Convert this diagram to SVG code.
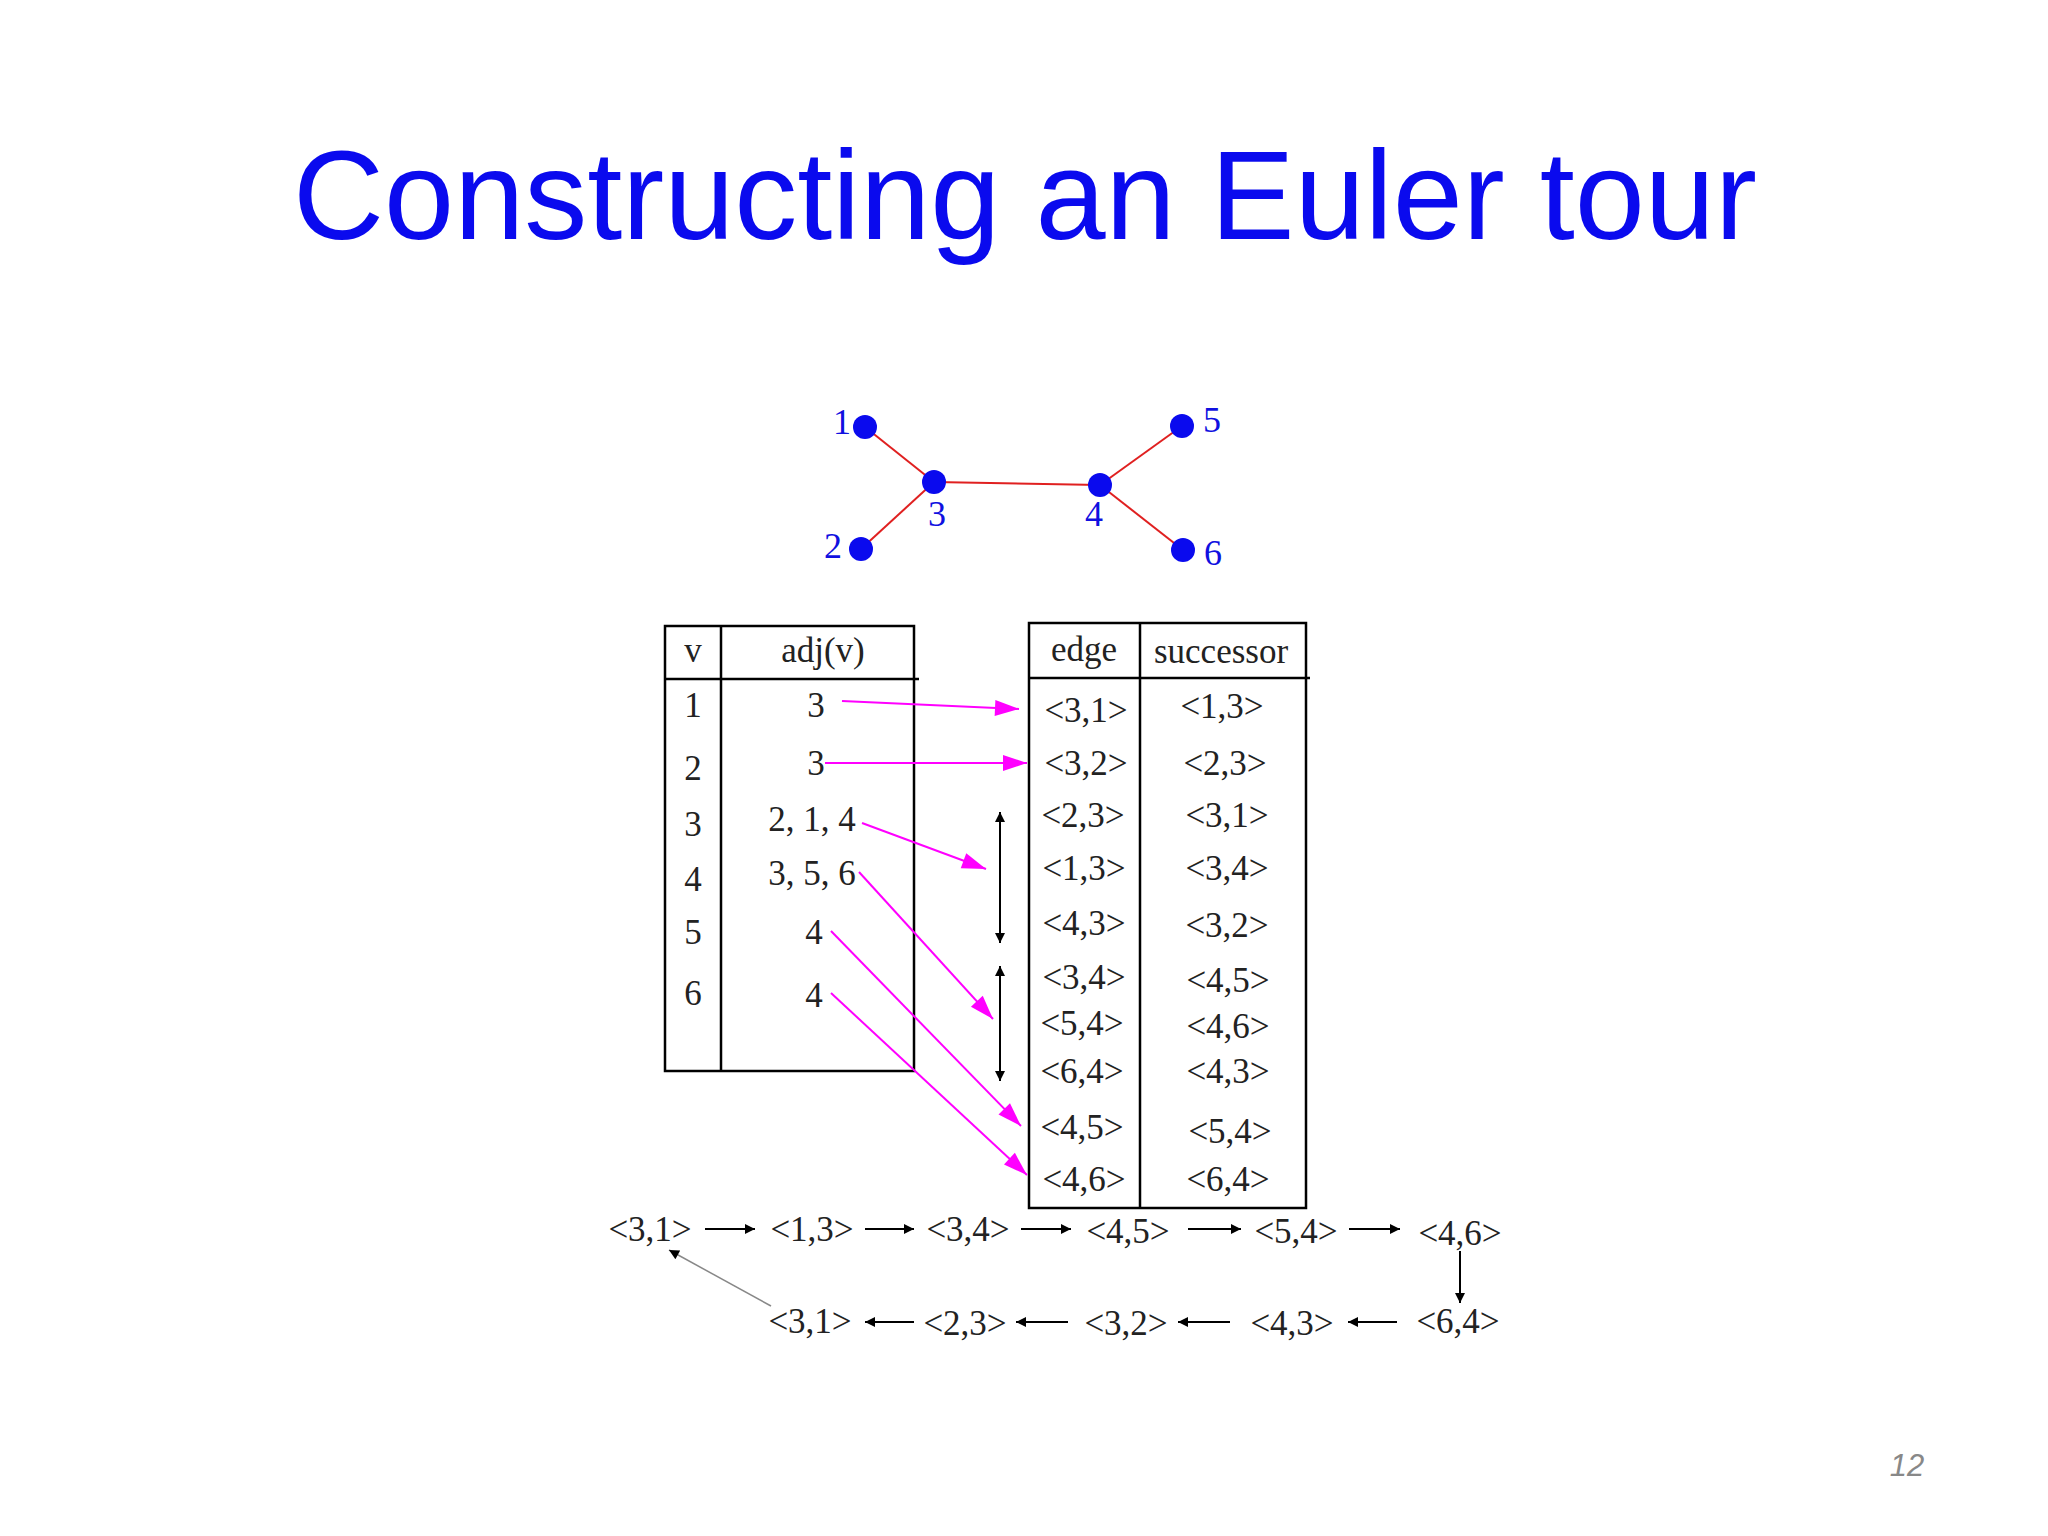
<svg xmlns="http://www.w3.org/2000/svg" width="2048" height="1536" viewBox="0 0 2048 1536">
<defs>
<style>
.t{font-family:"Liberation Serif","DejaVu Serif",serif;font-size:35px;fill:#222;text-anchor:middle;dominant-baseline:central}
.b{font-family:"Liberation Serif",serif;font-size:36px;fill:#1010e0;text-anchor:middle;dominant-baseline:central}
.m{stroke:#ff00ff;stroke-width:2;fill:none;marker-end:url(#mh)}
.k{stroke:#000;stroke-width:2;fill:none;marker-end:url(#kh)}
.kd{stroke:#000;stroke-width:2;fill:none;marker-end:url(#kh);marker-start:url(#ks)}
</style>
<marker id="mh" viewBox="0 0 10 10" refX="10" refY="5" markerWidth="12" markerHeight="8" markerUnits="userSpaceOnUse" orient="auto" overflow="visible"><path d="M0,0 L30,5 L0,10 Z" fill="#ff00ff" transform="translate(-20,-5) scale(1,2)"/></marker>
<marker id="kh" viewBox="0 0 10 10" refX="10" refY="5" markerWidth="16" markerHeight="10" markerUnits="userSpaceOnUse" orient="auto"><path d="M0,0 L10,5 L0,10 Z" fill="#000"/></marker>
<marker id="ks" viewBox="0 0 10 10" refX="0" refY="5" markerWidth="16" markerHeight="10" markerUnits="userSpaceOnUse" orient="auto"><path d="M10,0 L0,5 L10,10 Z" fill="#000"/></marker>
</defs>
<rect width="2048" height="1536" fill="#fff"/>
<text x="1025" y="239" font-family="Liberation Sans,Arial,sans-serif" font-size="126" fill="#0a0aee" text-anchor="middle">Constructing an Euler tour</text>
<g id="graph">
<g stroke="#e02020" stroke-width="2">
<line x1="865" y1="427" x2="934" y2="482"/><line x1="861" y1="549" x2="934" y2="482"/>
<line x1="934" y1="482" x2="1100" y2="485"/><line x1="1100" y1="485" x2="1182" y2="426"/><line x1="1100" y1="485" x2="1183" y2="550"/>
</g>
<g fill="#0a0aee"><circle cx="865" cy="427" r="12"/><circle cx="861" cy="549" r="12"/><circle cx="934" cy="482" r="12"/><circle cx="1100" cy="485" r="12"/><circle cx="1182" cy="426" r="12"/><circle cx="1183" cy="550" r="12"/></g>
<text class="b" x="842" y="422">1</text><text class="b" x="833" y="546">2</text><text class="b" x="937" y="514">3</text><text class="b" x="1094" y="514">4</text><text class="b" x="1212" y="420">5</text><text class="b" x="1213" y="553">6</text>
</g>
<g id="table-adj" fill="none" stroke="#000" stroke-width="2.5">
<rect x="665" y="626" width="249" height="445"/><line x1="721" y1="626" x2="721" y2="1071"/><line x1="665" y1="679" x2="919" y2="679"/>
</g>
<g id="table-adj-text">
<text class="t" x="693" y="650">v</text><text class="t" x="823" y="650">adj(v)</text>
<text class="t" x="693" y="705">1</text><text class="t" x="816" y="705">3</text>
<text class="t" x="693" y="768">2</text><text class="t" x="816" y="763">3</text>
<text class="t" x="693" y="824">3</text><text class="t" x="812" y="819">2, 1, 4</text>
<text class="t" x="693" y="879">4</text><text class="t" x="812" y="873">3, 5, 6</text>
<text class="t" x="693" y="932">5</text><text class="t" x="814" y="932">4</text>
<text class="t" x="693" y="993">6</text><text class="t" x="814" y="995">4</text>
</g>
<g id="table-succ" fill="none" stroke="#000" stroke-width="2.5">
<rect x="1029" y="623" width="277" height="585"/><line x1="1140" y1="623" x2="1140" y2="1208"/><line x1="1029" y1="678" x2="1310" y2="678"/>
</g>
<g id="table-succ-text">
<text class="t" x="1084" y="649">edge</text><text class="t" x="1221" y="651">successor</text>
<text class="t" x="1086" y="710">&lt;3,1&gt;</text><text class="t" x="1222" y="706">&lt;1,3&gt;</text>
<text class="t" x="1086" y="763">&lt;3,2&gt;</text><text class="t" x="1225" y="763">&lt;2,3&gt;</text>
<text class="t" x="1083" y="815">&lt;2,3&gt;</text><text class="t" x="1227" y="815">&lt;3,1&gt;</text>
<text class="t" x="1084" y="868">&lt;1,3&gt;</text><text class="t" x="1227" y="868">&lt;3,4&gt;</text>
<text class="t" x="1084" y="923">&lt;4,3&gt;</text><text class="t" x="1227" y="925">&lt;3,2&gt;</text>
<text class="t" x="1084" y="977">&lt;3,4&gt;</text><text class="t" x="1228" y="980">&lt;4,5&gt;</text>
<text class="t" x="1082" y="1023">&lt;5,4&gt;</text><text class="t" x="1228" y="1026">&lt;4,6&gt;</text>
<text class="t" x="1082" y="1071">&lt;6,4&gt;</text><text class="t" x="1228" y="1071">&lt;4,3&gt;</text>
<text class="t" x="1082" y="1127">&lt;4,5&gt;</text><text class="t" x="1230" y="1131">&lt;5,4&gt;</text>
<text class="t" x="1084" y="1179">&lt;4,6&gt;</text><text class="t" x="1228" y="1179">&lt;6,4&gt;</text>
</g>
<g id="connectors">
<line class="m" x1="842" y1="701" x2="1019" y2="709"/>
<line class="m" x1="825" y1="763" x2="1027" y2="763"/>
<line class="m" x1="862" y1="823" x2="986" y2="869"/>
<line class="m" x1="859" y1="872" x2="993" y2="1019"/>
<line class="m" x1="831" y1="931" x2="1021" y2="1126"/>
<line class="m" x1="831" y1="993" x2="1027" y2="1175"/>
<line class="kd" x1="1000" y1="812" x2="1000" y2="943"/>
<line class="kd" x1="1000" y1="966" x2="1000" y2="1081"/>
<line class="k" x1="705" y1="1229" x2="755" y2="1229"/>
<line class="k" x1="865" y1="1229" x2="914" y2="1229"/>
<line class="k" x1="1021" y1="1229" x2="1071" y2="1229"/>
<line class="k" x1="1188" y1="1229" x2="1241" y2="1229"/>
<line class="k" x1="1349" y1="1229" x2="1400" y2="1229"/>
<line class="k" x1="1460" y1="1251" x2="1460" y2="1303"/>
<line class="k" x1="1397" y1="1322" x2="1348" y2="1322"/>
<line class="k" x1="1230" y1="1322" x2="1178" y2="1322"/>
<line class="k" x1="1068" y1="1322" x2="1016" y2="1322"/>
<line class="k" x1="914" y1="1322" x2="865" y2="1322"/>
<line x1="771" y1="1306" x2="669" y2="1250" stroke="#888" stroke-width="1.5" marker-end="url(#kh)"/>
</g>
<g id="chain">
<text class="t" x="650" y="1229">&lt;3,1&gt;</text><text class="t" x="812" y="1229">&lt;1,3&gt;</text><text class="t" x="968" y="1229">&lt;3,4&gt;</text><text class="t" x="1128" y="1231">&lt;4,5&gt;</text><text class="t" x="1296" y="1231">&lt;5,4&gt;</text><text class="t" x="1460" y="1233">&lt;4,6&gt;</text>
<text class="t" x="810" y="1321">&lt;3,1&gt;</text><text class="t" x="965" y="1323">&lt;2,3&gt;</text><text class="t" x="1126" y="1323">&lt;3,2&gt;</text><text class="t" x="1292" y="1323">&lt;4,3&gt;</text><text class="t" x="1458" y="1321">&lt;6,4&gt;</text>
</g>
<text x="1907" y="1476" font-family="Liberation Sans,sans-serif" font-style="italic" font-size="31" fill="#888" text-anchor="middle">12</text>
</svg>
